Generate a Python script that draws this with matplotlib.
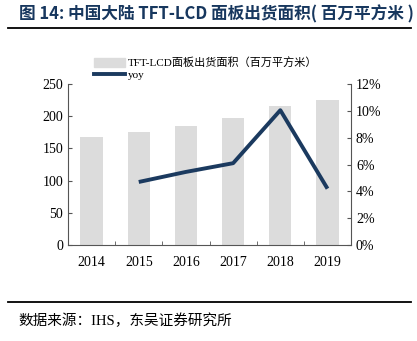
import matplotlib
matplotlib.use("Agg")
import matplotlib.pyplot as plt
from matplotlib.lines import Line2D
import numpy as np

years = ["2014", "2015", "2016", "2017", "2018", "2019"]
area = [168, 176, 185, 197, 216, 225]
yoy_years = ["2015", "2016", "2017", "2018", "2019"]
yoy = [4.7, 5.45, 6.1, 10.05, 4.2]

serif = ["Liberation Serif", "Noto Sans CJK SC"]
cjk = ["Noto Sans CJK SC", "DejaVu Sans"]
navy = "#1b3a5f"

fig = plt.figure(figsize=(4.17, 3.41), dpi=100)
ax = fig.add_axes([0.163, 0.2815, 0.679, 0.472])
x = np.arange(len(years))
bars = ax.bar(x, area, width=0.47, color="#dcdcdc", zorder=1)
ax.set_ylim(0, 250)
ax.set_yticks(range(0, 251, 50))
ax.set_xlim(-0.5, len(years) - 0.5)
ax.set_xticks(x)
ax.set_xticklabels(years)
ax.set_xticks(np.arange(0.5, len(years) - 1, 1), minor=True)
ax.tick_params(axis="x", which="major", length=0, pad=8)
ax.tick_params(axis="x", which="minor", direction="in", length=3, color="#555555")
ax.tick_params(axis="y", direction="in", length=3, color="#555555")
for s in ["top", "right"]:
    ax.spines[s].set_visible(False)
for s in ["left", "bottom"]:
    ax.spines[s].set_color("#555555")

ax2 = ax.twinx()
xi = [years.index(y) for y in yoy_years]
ax2.plot(xi, yoy, color=navy, lw=2.8, solid_capstyle="butt", zorder=3)
ax2.set_ylim(0, 12)
ax2.set_yticks(range(0, 13, 2))
ax2.set_yticklabels([f"{v}%" for v in range(0, 13, 2)])
ax2.tick_params(axis="y", direction="in", length=3, color="#555555")
for s in ["top", "left", "bottom"]:
    ax2.spines[s].set_visible(False)
ax2.spines["right"].set_color("#555555")

for a in (ax, ax2):
    for lab in a.get_xticklabels() + a.get_yticklabels():
        lab.set_fontfamily(serif)
        lab.set_fontsize(10)

handles = [plt.Rectangle((0, 0), 1, 1, color="#dcdcdc"),
           Line2D([0], [0], color=navy, lw=2.8)]
leg = fig.legend(handles, ["TFT-LCD面板出货面积（百万平方米）", "yoy"],
                 loc="upper left", bbox_to_anchor=(0.215, 0.845), frameon=False,
                 prop={"family": serif, "size": 8}, handlelength=2.8,
                 handleheight=0.9, labelspacing=0.15, handletextpad=0.2,
                 borderaxespad=0)

fig.text(0.045, 0.957, "图 14: 中国大陆 TFT-LCD 面板出货面积( 百万平方米 )",
         family=cjk, fontsize=12, fontweight="bold", color="#17375e",
         va="center", ha="left")
fig.add_artist(Line2D([0.02, 0.985], [0.918, 0.918], color="black", lw=1.3))
fig.add_artist(Line2D([0.02, 0.985], [0.114, 0.114], color="black", lw=1.3))
fig.text(0.045, 0.058, "数据来源：IHS，东吴证券研究所", family=serif,
         fontsize=10.5, va="center", ha="left")

fig.savefig("out.png", dpi=100)
